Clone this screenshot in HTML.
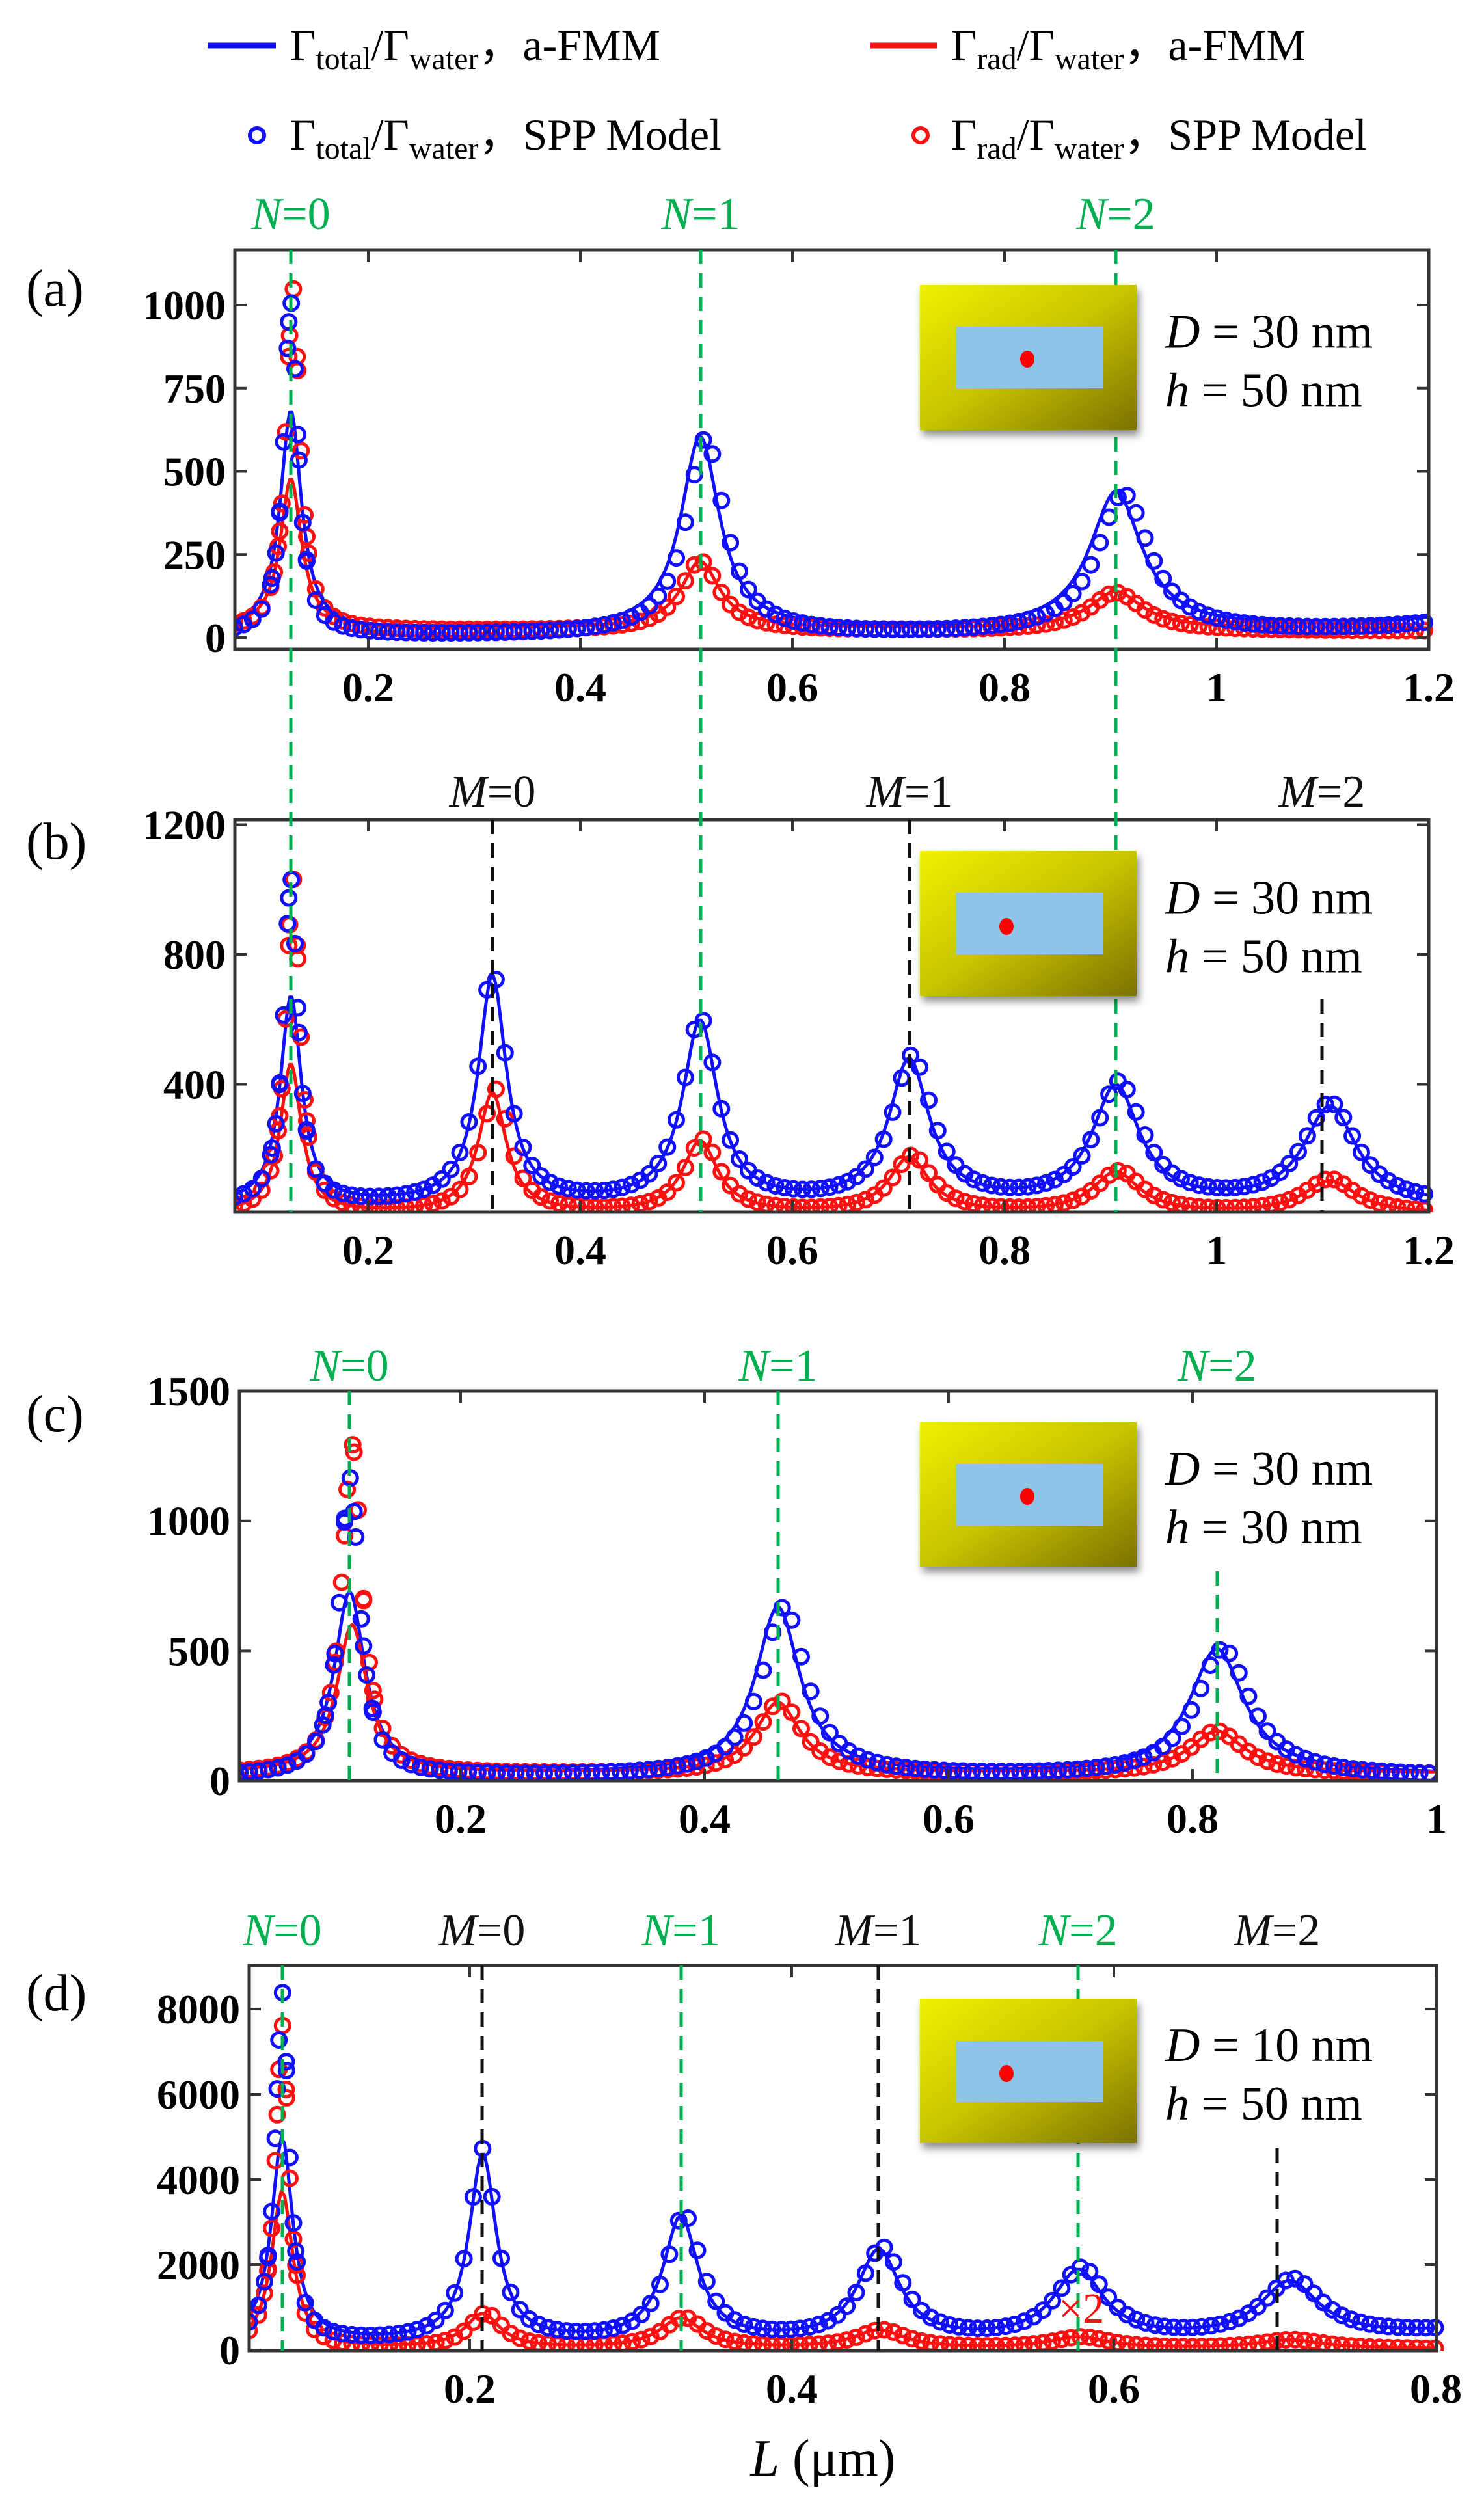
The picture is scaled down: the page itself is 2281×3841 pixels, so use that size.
<!DOCTYPE html>
<html><head><meta charset="utf-8">
<style>
html,body{margin:0;padding:0;background:#fff;}
svg{display:block;}
text{font-family:"Liberation Serif",serif;}
</style></head>
<body>
<svg id="s" xmlns="http://www.w3.org/2000/svg" width="2281" height="3841" viewBox="0 0 2281 3841">
<defs>
<linearGradient id="gold" x1="0" y1="0" x2="1" y2="1">
<stop offset="0" stop-color="#f0f000"/><stop offset="0.5" stop-color="#c8c400"/><stop offset="1" stop-color="#7a7200"/>
</linearGradient>
<filter id="sh" x="-10%" y="-10%" width="130%" height="130%"><feDropShadow dx="4" dy="8" stdDeviation="6" flood-color="#000" flood-opacity="0.45"/></filter>
</defs>
<g font-size="68">
<line x1="319" y1="70" x2="424" y2="70" stroke="#1010ff" stroke-width="9"/>
<text x="446" y="92">Γ<tspan font-size="48" dy="14">total</tspan><tspan dy="-14">/Γ</tspan><tspan font-size="48" dy="14">water</tspan><tspan dy="-14">，a-FMM</tspan></text>
<line x1="1338" y1="70" x2="1440" y2="70" stroke="#ff1010" stroke-width="9"/>
<text x="1462" y="92">Γ<tspan font-size="48" dy="14">rad</tspan><tspan dy="-14">/Γ</tspan><tspan font-size="48" dy="14">water</tspan><tspan dy="-14">，a-FMM</tspan></text>
<circle cx="395" cy="208" r="11" fill="none" stroke="#1010ff" stroke-width="6"/>
<text x="446" y="230">Γ<tspan font-size="48" dy="14">total</tspan><tspan dy="-14">/Γ</tspan><tspan font-size="48" dy="14">water</tspan><tspan dy="-14">，SPP Model</tspan></text>
<circle cx="1415" cy="208" r="11" fill="none" stroke="#ff1010" stroke-width="6"/>
<text x="1462" y="230">Γ<tspan font-size="48" dy="14">rad</tspan><tspan dy="-14">/Γ</tspan><tspan font-size="48" dy="14">water</tspan><tspan dy="-14">，SPP Model</tspan></text>
</g>
<g id="plots"></g>
</svg>
<script>
const NS="http://www.w3.org/2000/svg";
const root=document.getElementById('plots');
function el(t,a,p){const e=document.createElementNS(NS,t);for(const k in a)e.setAttribute(k,a[k]);(p||root).appendChild(e);return e;}
function txt(x,y,s,a,p){const e=el('text',Object.assign({x:x,y:y},a),p);e.textContent=s;return e;}
function lor(x,pk){let s=0;for(const [x0,h,g] of pk){s+=h*g*g/((x-x0)*(x-x0)+g*g);}return s;}

const panels=[
{id:'a',L:361,R:2196,T:384,B:998,ax:240,bx:1630,ay:980,by:0.511,
 xt:[0.2,0.4,0.6,0.8,1,1.2],yt:[0,250,500,750,1000],
 blue:[[0.127,660,0.012],[0.513,580,0.022],[0.905,410,0.03],[1.35,120,0.1]],bb:20,
 bluec:[[0.127,1000,0.008],[0.518,590,0.022],[0.912,420,0.03],[1.35,120,0.1]],bbc:5,
 red:[[0.127,450,0.012],[0.513,200,0.022],[0.905,110,0.03]],rb:28,
 redc:[[0.129,1030,0.008],[0.513,210,0.022],[0.905,115,0.03]],rbc:20,
 step:0.0085,x0:0.074,x1:1.2,ylabel:'(a)',ly:445},
{id:'b',L:361,R:2196,T:1260,B:1863,ax:240,bx:1630,ay:1866,by:0.4988,
 xt:[0.2,0.4,0.6,0.8,1,1.2],yt:[400,800,1200],
 blue:[[0.127,640,0.012],[0.317,700,0.016],[0.513,560,0.02],[0.71,440,0.023],[0.905,360,0.027],[1.107,300,0.03]],bb:25,
 bluec:[[0.127,1000,0.008],[0.317,720,0.016],[0.513,570,0.02],[0.713,450,0.023],[0.908,370,0.027],[1.107,310,0.03]],bbc:25,
 red:[[0.127,460,0.012],[0.317,370,0.016],[0.513,220,0.02],[0.71,170,0.023],[0.905,125,0.027],[1.107,100,0.03]],rb:0,
 redc:[[0.129,1030,0.008],[0.32,380,0.016],[0.515,225,0.02],[0.713,175,0.023],[0.908,128,0.027],[1.107,105,0.03]],rbc:0,
 step:0.0085,x0:0.074,x1:1.2,ylabel:'(b)',ly:1295},
{id:'c',L:368,R:2208,T:2138,B:2737,ax:333,bx:1875,ay:2737,by:0.3993,
 xt:[0.2,0.4,0.6,0.8,1],yt:[0,500,1000,1500],
 blue:[[0.109,700,0.015],[0.46,640,0.022],[0.82,480,0.027]],bb:25,
 bluec:[[0.109,1150,0.01],[0.465,650,0.022],[0.825,490,0.027]],bbc:15,
 red:[[0.111,570,0.015],[0.46,270,0.022],[0.82,160,0.027]],rb:30,
 redc:[[0.111,1270,0.01],[0.462,280,0.022],[0.82,165,0.027]],rbc:25,
 step:0.0078,x0:0.019,x1:1.0,ylabel:'(c)',ly:2175},
{id:'d',L:383,R:2208,T:3021,B:3613,ax:227,bx:2475,ay:3612,by:0.0655,
 xt:[0.2,0.4,0.6,0.8],yt:[0,2000,4000,6000,8000],
 blue:[[0.0835,4800,0.008],[0.208,4400,0.01],[0.331,2900,0.013],[0.454,2100,0.016],[0.578,1600,0.019],[0.709,1300,0.022],[0.95,900,0.1]],bb:150,
 bluec:[[0.0835,8200,0.005],[0.208,4500,0.01],[0.333,2950,0.013],[0.456,2150,0.016],[0.58,1650,0.019],[0.711,1350,0.022],[0.95,900,0.1]],bbc:150,
 red:[[0.0835,3700,0.008],[0.208,800,0.013],[0.331,700,0.016],[0.454,420,0.019],[0.578,260,0.022],[0.709,200,0.025]],rb:30,
 redc:[[0.0835,7600,0.005],[0.21,820,0.013],[0.333,720,0.016],[0.456,430,0.019],[0.58,270,0.022],[0.711,210,0.025]],rbc:20,
 step:0.0058,x0:0.063,x1:0.8,ylabel:'(d)',ly:3065}
];

panels.forEach(p=>{
 const X=x=>p.ax+p.bx*x, Y=v=>p.ay-p.by*v;
 const cid='clip'+p.id;
 const cp=el('clipPath',{id:cid});el('rect',{x:p.L,y:p.T-15,width:p.R-p.L+15,height:p.B-p.T+15},cp);
 const g=el('g',{'clip-path':'url(#'+cid+')'});
 [['blue','bb','#1010ff'],['red','rb','#ff1010']].forEach(([k,b,c])=>{
  let d='';for(let x=p.x0;x<=p.x1+1e-9;x+=0.002){const v=lor(x,p[k])+p[b];d+=(d?'L':'M')+X(x).toFixed(1)+','+Y(v).toFixed(1);}
  el('path',{d:d,fill:'none',stroke:c,'stroke-width':5,'stroke-linejoin':'round'},g);
 });
 [['redc','rbc','#ff1010'],['bluec','bbc','#1010ff']].forEach(([k,b,c])=>{
  const xs=[];for(let x=p.x0;x<=p.x1+1e-9;x+=p.step)xs.push(x);
  const pk0=p[k][0][0],w=p[k][0][2]*2.2;
  for(let x=pk0-w;x<=pk0+w;x+=p[k][0][2]*0.45)xs.push(x);
  xs.forEach(x=>{const v=lor(x,p[k])+p[b];
   el('circle',{cx:X(x).toFixed(1),cy:Y(v).toFixed(1),r:11,fill:'none',stroke:c,'stroke-width':5},g);});
 });
 el('rect',{x:p.L,y:p.T,width:p.R-p.L,height:p.B-p.T,fill:'none',stroke:'#333','stroke-width':5});
 p.xt.forEach(t=>{const x=X(t);el('line',{x1:x,y1:p.B,x2:x,y2:p.B-18,stroke:'#333','stroke-width':4});el('line',{x1:x,y1:p.T,x2:x,y2:p.T+18,stroke:'#333','stroke-width':4});
  txt(x,p.B+80,String(t),{'font-size':64,'font-weight':'bold','text-anchor':'middle'});});
 p.yt.forEach(t=>{const y=Y(t);el('line',{x1:p.L,y1:y,x2:p.L+18,y2:y,stroke:'#333','stroke-width':4});el('line',{x1:p.R,y1:y,x2:p.R-18,y2:y,stroke:'#333','stroke-width':4});
  txt(p.L-14,y+22,String(t),{'font-size':64,'font-weight':'bold','text-anchor':'end'});});
 txt(40,p.ly+25,p.ylabel,{'font-size':80});
});

function vline(x,y1,y2,c){el('line',{x1:x,y1:y1,x2:x,y2:y2,stroke:c,'stroke-width':5,'stroke-dasharray':'22,14'});}
function lab(x,y,a,b,c){const t=el('text',{x:x,y:y,'font-size':70,fill:c,'text-anchor':'middle'});const s1=el('tspan',{'font-style':'italic'},t);s1.textContent=a;const s2=el('tspan',{},t);s2.textContent=b;}
function inset(x1,y1,y2,ry1,ry2,dx,dy,D,h){
 el('rect',{x:1414,y:y1,width:333,height:y2-y1,fill:'url(#gold)',filter:'url(#sh)'});
 el('rect',{x:1469,y:ry1,width:227,height:ry2-ry1,fill:'#8ec4e8'});
 el('ellipse',{cx:dx,cy:dy,rx:11,ry:13,fill:'#ff0000'});
 const a=(yy,v,s)=>{const t=el('text',{x:1791,y:yy,'font-size':74},root);const i=el('tspan',{'font-style':'italic'},t);i.textContent=v;const r=el('tspan',{},t);r.textContent=s;};
 a((y1+y2)/2-15,'D',' = '+D+' nm');a((y1+y2)/2+75,'h',' = '+h+' nm');
}
const G='#00b050',K='#111';
[447,1077,1715].forEach(x=>vline(x,384,1863,G));
lab(447,352,'N','=0',G);lab(1077,352,'N','=1',G);lab(1715,352,'N','=2',G);
vline(757,1260,1863,K);vline(1398,1260,1863,K);vline(2032,1536,1863,K);
lab(757,1240,'M','=0',K);lab(1398,1240,'M','=1',K);lab(2032,1240,'M','=2',K);
inset(1414,438,661,502,597,1579,552,30,50);
inset(1414,1308,1531,1372,1467,1547,1424,30,50);
vline(537,2138,2737,G);vline(1196,2138,2737,G);vline(1871,2415,2737,G);
lab(537,2122,'N','=0',G);lab(1196,2122,'N','=1',G);lab(1871,2122,'N','=2',G);
inset(1414,2186,2408,2250,2345,1579,2300,30,30);
vline(434,3021,3613,G);vline(1047,3021,3613,G);vline(1657,3021,3613,G);
vline(741,3021,3613,K);vline(1350,3021,3613,K);vline(1963,3302,3613,K);
lab(434,2990,'N','=0',G);lab(741,2990,'M','=0',K);lab(1047,2990,'N','=1',G);lab(1350,2990,'M','=1',K);lab(1657,2990,'N','=2',G);lab(1963,2990,'M','=2',K);
inset(1414,3072,3294,3137,3231,1547,3187,10,50);
txt(1662,3570,'×2',{'font-size':66,fill:'#ff1010','text-anchor':'middle'});
(function(){const t=el('text',{x:1265,y:3805,'font-size':80,'text-anchor':'middle'});const i=el('tspan',{'font-style':'italic'},t);i.textContent='L';const r=el('tspan',{},t);r.textContent=' (μm)';})();
</script>
</body></html>
